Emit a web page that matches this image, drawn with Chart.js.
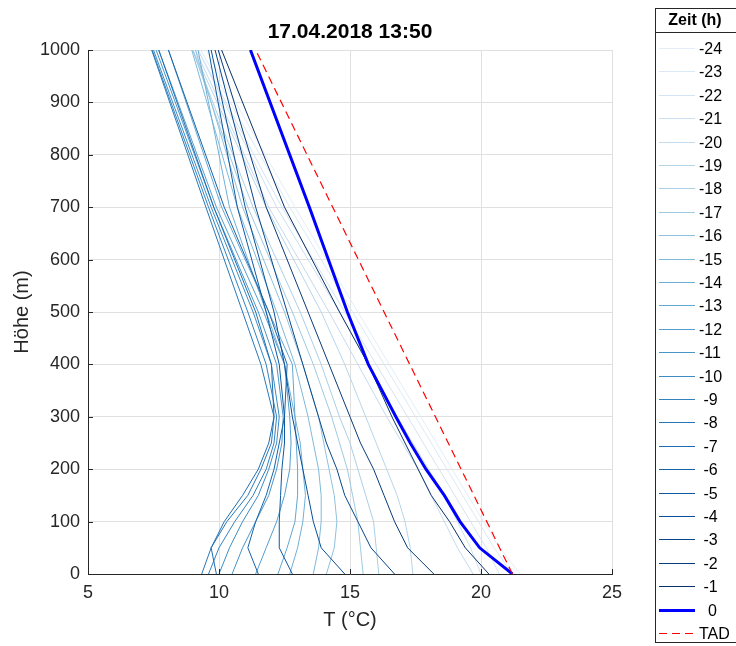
<!DOCTYPE html>
<html>
<head>
<meta charset="utf-8">
<script src="https://cdn.jsdelivr.net/npm/chart.js@4.4.0/dist/chart.umd.min.js"></script>
<style>
  html, body { margin: 0; padding: 0; background: #fff; }
  #wrap { width: 736px; height: 646px; }
</style>
</head>
<body>
<div id="wrap"><canvas id="chartCanvas" width="736" height="646"></canvas></div>
<script>
// heights (m) at which each profile is read
const heights = [0, 50, 100, 150, 200, 250, 300, 400, 500, 700, 1000];
const hourLabels = ['-24', '-23', '-22', '-21', '-20', '-19', '-18', '-17', '-16', '-15', '-14', '-13',
                    '-12', '-11', '-10', '-9', '-8', '-7', '-6', '-5', '-4', '-3', '-2', '-1'];

// temperature profiles (°C), hours before 17.04.2018 13:50
const tM24 = [21.5, 20.7, 20.1, 19.5, 18.9, 18.3, 17.7, 16.5, 15.3, 12.9, 9.5];
const tM23 = [21.2, 20.5, 19.9, 19.3, 18.7, 18.1, 17.5, 16.3, 15.1, 12.7, 9.3];
const tM22 = [20.7, 20.2, 19.6, 19.0, 18.4, 17.8, 17.2, 16.0, 14.8, 12.4, 9.2];
const tM21 = [20.0, 19.6, 19.1, 18.6, 18.0, 17.4, 16.8, 15.7, 14.6, 12.2, 9.2];
const tM20 = [19.7, 19.1, 18.6, 18.1, 17.6, 17.0, 16.4, 15.3, 14.2, 11.9, 9.1];
const tM19 = [17.4, 17.3, 17.1, 16.8, 16.4, 16.0, 15.6, 14.8, 13.9, 11.8, 9.0];
const tM18 = [16.1, 16.0, 15.9, 15.6, 15.3, 15.0, 14.6, 13.9, 13.1, 11.3, 9.0];
const tM17 = [15.5, 15.4, 15.3, 15.1, 14.9, 14.6, 14.3, 13.6, 12.8, 11.1, 9.0];
const tM16 = [14.1, 14.4, 14.5, 14.4, 14.2, 14.0, 13.8, 13.2, 12.5, 10.9, 9.1];
const tM15 = [13.6, 13.8, 13.9, 13.9, 13.8, 13.6, 13.4, 12.9, 12.2, 10.7, 8.96];
const tM14 = [12.7, 13.0, 13.2, 13.3, 13.2, 13.1, 12.9, 12.5, 11.8, 10.4, 9.2];
const tM13 = [12.25, 12.6, 12.9, 13.0, 13.0, 12.95, 12.9, 12.8, 11.9, 10.1, 8.07];
const tM12 = [11.4, 11.8, 12.2, 12.5, 12.7, 12.75, 12.7, 12.5, 11.7, 9.9, 7.7];
const tM11 = [10.5, 10.9, 11.4, 11.9, 12.2, 12.4, 12.45, 12.2, 11.5, 9.8, 7.6];
const tM10 = [10.0, 10.4, 10.9, 11.5, 11.9, 12.2, 12.3, 12.0, 11.3, 9.7, 7.5];
const tM9 = [9.6, 10.0, 10.6, 11.3, 11.8, 12.1, 12.2, 11.8, 11.1, 9.6, 7.45];
const tM8 = [9.34, 9.7, 10.3, 11.1, 11.6, 12.0, 12.1, 11.6, 10.9, 9.5, 7.43];
const tM7 = [9.9, 9.7, 10.2, 10.9, 11.5, 11.9, 12.1, 12.0, 11.4, 9.8, 7.7];
const tM6 = [11.5, 11.1, 11.4, 11.8, 12.1, 12.3, 12.5, 12.6, 11.9, 10.2, 8.07];
const tM5 = [12.8, 12.3, 12.3, 12.35, 12.4, 12.5, 12.5, 12.3, 11.8, 10.7, 9.6];
const tM4 = [14.8, 13.9, 13.6, 13.4, 13.2, 13.0, 12.8, 12.5, 12.1, 11.0, 9.7];
const tM3 = [16.7, 15.8, 15.3, 14.8, 14.5, 14.1, 13.8, 13.2, 12.6, 11.4, 9.85];
const tM2 = [18.2, 17.2, 16.7, 16.3, 15.9, 15.4, 15.0, 14.2, 13.4, 11.8, 9.97];
const tM1 = [20.3, 19.4, 18.8, 18.1, 17.6, 17.1, 16.6, 15.7, 14.6, 12.5, 10.1];
const tNow = [21.2, 19.95, 19.2, 18.6, 17.9, 17.3, 16.75, 15.7, 14.9, 13.45, 11.2];

// dry adiabat from the surface
const tadHeights = [0, 1000];
const tadTemps = [21.2, 11.4];

const xTicks = [5, 10, 15, 20, 25];
const yTicks = [0, 100, 200, 300, 400, 500, 600, 700, 800, 900, 1000];

const profiles = [tM24, tM23, tM22, tM21, tM20, tM19, tM18, tM17, tM16, tM15, tM14, tM13,
                  tM12, tM11, tM10, tM9, tM8, tM7, tM6, tM5, tM4, tM3, tM2, tM1];

// "Blues" colour map
const bluesStops = ['#f7fbff', '#deebf7', '#c6dbef', '#9ecae1', '#6baed6', '#4292c6', '#2171b5', '#08519c', '#08306b'];
function blues(t) {
    const p = Math.min(Math.max(t, 0), 1) * (bluesStops.length - 1);
    const i = Math.min(Math.floor(p), bluesStops.length - 2);
    const f = p - i;
    const a = bluesStops[i], b = bluesStops[i + 1];
    const ch = k => {
        const va = parseInt(a.substr(1 + 2 * k, 2), 16);
        const vb = parseInt(b.substr(1 + 2 * k, 2), 16);
        return Math.round(va + (vb - va) * f);
    };
    return `rgb(${ch(0)}, ${ch(1)}, ${ch(2)})`;
}

const toPoints = (temps, hs) => temps.map((t, k) => ({ x: t, y: hs[k] }));

const datasets = [];
profiles.forEach((temps, i) => {
    datasets.push({
        label: hourLabels[i],
        data: toPoints(temps, heights),
        borderColor: blues(0.1 + 0.9 * i / (profiles.length - 1)),
        borderWidth: 1,
        showLine: true,
        pointRadius: 0,
        fill: false,
        order: 40 - i
    });
});
datasets.push({
    label: '0',
    data: toPoints(tNow, heights),
    borderColor: '#0000ff',
    borderWidth: 3,
    showLine: true,
    pointRadius: 0,
    fill: false,
    order: 1
});
datasets.push({
    label: 'TAD',
    data: toPoints(tadTemps, tadHeights),
    borderColor: '#ff0000',
    borderWidth: 1.2,
    borderDash: [8, 5],
    showLine: true,
    pointRadius: 0,
    fill: false,
    order: 0
});

const axisColor = '#262626';
const fontFamily = "'Liberation Sans', Arial, sans-serif";

// title centred over the plot area
const plotTitle = {
    id: 'plotTitle',
    afterDraw(chart) {
        const { ctx, chartArea } = chart;
        ctx.save();
        ctx.fillStyle = '#000000';
        ctx.font = `bold 21px ${fontFamily}`;
        ctx.textAlign = 'center';
        ctx.textBaseline = 'middle';
        ctx.fillText('17.04.2018 13:50', (chartArea.left + chartArea.right) / 2, 32);
        ctx.restore();
    }
};

// MATLAB style ticks pointing into the plot
const innerTicks = {
    id: 'innerTicks',
    afterDatasetsDraw(chart) {
        const { ctx, chartArea, scales } = chart;
        ctx.save();
        ctx.strokeStyle = axisColor;
        ctx.lineWidth = 1;
        ctx.beginPath();
        xTicks.forEach(v => {
            const px = Math.round(scales.x.getPixelForValue(v)) + 0.5;
            ctx.moveTo(px, chartArea.bottom);
            ctx.lineTo(px, chartArea.bottom - 5);
        });
        yTicks.forEach(v => {
            const py = Math.round(scales.y.getPixelForValue(v)) + 0.5;
            ctx.moveTo(chartArea.left, py);
            ctx.lineTo(chartArea.left + 5, py);
        });
        ctx.stroke();
        ctx.restore();
    }
};

// legend box on the right with a title row
const legendBox = {
    id: 'legendBox',
    afterDraw(chart) {
        const ctx = chart.ctx;
        const left = 655.5, top = 8.5, bottom = 642.5;
        ctx.save();
        ctx.fillStyle = '#ffffff';
        ctx.fillRect(left, top, 100, bottom - top);
        ctx.strokeStyle = axisColor;
        ctx.lineWidth = 1;
        ctx.strokeRect(left, top, 100, bottom - top);
        ctx.beginPath();
        ctx.moveTo(left, 32.5);
        ctx.lineTo(left + 100, 32.5);
        ctx.stroke();

        ctx.fillStyle = '#000000';
        ctx.font = `bold 16px ${fontFamily}`;
        ctx.textAlign = 'center';
        ctx.textBaseline = 'middle';
        ctx.fillText('Zeit (h)', 695, 21);

        ctx.font = `16px ${fontFamily}`;
        ctx.textAlign = 'left';
        chart.data.datasets.forEach((ds, i) => {
            const y = Math.round(48 + 23.4 * i) + 0.5;
            ctx.strokeStyle = ds.borderColor;
            ctx.lineWidth = ds.borderWidth;
            ctx.setLineDash(ds.borderDash || []);
            ctx.beginPath();
            ctx.moveTo(659, y);
            ctx.lineTo(695, y);
            ctx.stroke();
            ctx.setLineDash([]);
            const shift = ds.label === 'TAD' ? 0 : (3 - ds.label.length) * 4.5;
            ctx.fillText(ds.label, 699 + shift, y + 1);
        });
        ctx.restore();
    }
};

const ctx = document.getElementById('chartCanvas').getContext('2d');
new Chart(ctx, {
    type: 'scatter',
    data: { datasets: datasets },
    options: {
        responsive: false,
        animation: false,
        layout: { padding: { left: 0, right: 124, top: 50, bottom: 0 } },
        plugins: {
            legend: { display: false },
            tooltip: { enabled: false },
            title: { display: false }
        },
        scales: {
            x: {
                type: 'linear',
                min: 5,
                max: 25,
                afterFit: scale => { scale.height = 72; },
                afterBuildTicks: scale => { scale.ticks = xTicks.map(v => ({ value: v })); },
                ticks: {
                    color: axisColor,
                    font: { family: fontFamily, size: 18 },
                    padding: 8,
                    maxRotation: 0,
                    callback: v => String(v)
                },
                grid: { color: '#e0e0e0', drawTicks: false },
                border: { color: axisColor, width: 1 },
                title: {
                    display: true,
                    text: 'T (°C)',
                    color: axisColor,
                    font: { family: fontFamily, size: 20 },
                    padding: { top: 0, bottom: 14 }
                }
            },
            y: {
                type: 'linear',
                min: 0,
                max: 1000,
                afterFit: scale => { scale.width = 88; },
                afterBuildTicks: scale => { scale.ticks = yTicks.map(v => ({ value: v })); },
                ticks: {
                    color: axisColor,
                    font: { family: fontFamily, size: 18 },
                    padding: 8,
                    callback: v => String(v)
                },
                grid: { color: '#e0e0e0', drawTicks: false },
                border: { color: axisColor, width: 1 },
                title: {
                    display: true,
                    text: 'Höhe (m)',
                    color: axisColor,
                    font: { family: fontFamily, size: 20 },
                    padding: { top: 10, bottom: 0 }
                }
            }
        }
    },
    plugins: [innerTicks, plotTitle, legendBox]
});
</script>
</body>
</html>
